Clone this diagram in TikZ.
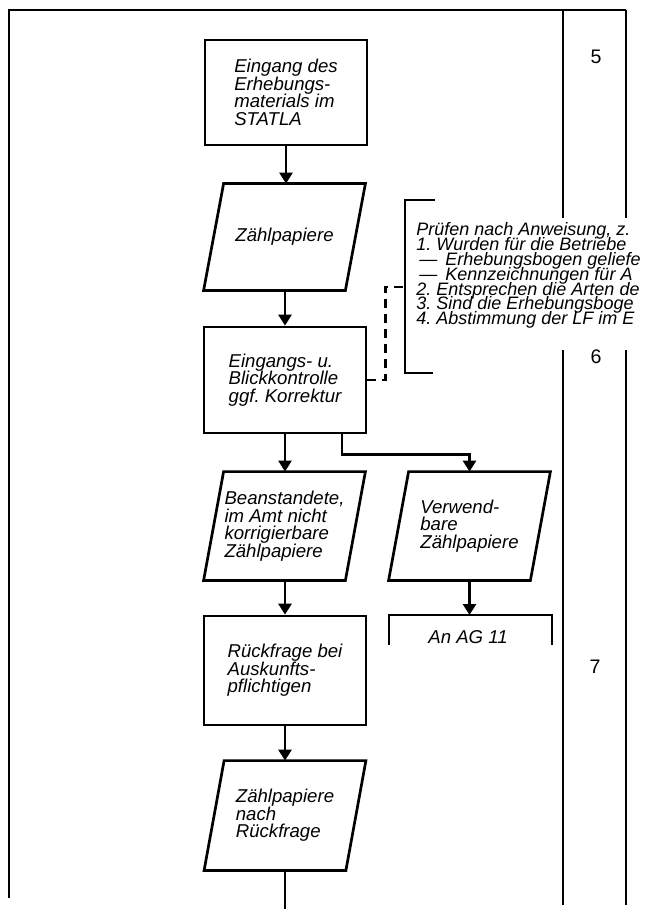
\documentclass[tikz,border=0pt]{standalone}
\usepackage{fontspec}
\setmainfont{Liberation Sans}
\usetikzlibrary{arrows.meta}
\lineskiplimit=-100pt
\frenchspacing
\newcommand\mybxfont{\fontsize{9.3pt}{8.8pt}\selectfont\itshape\lineskiplimit=-100pt\frenchspacing}
\newcommand\mytxfont{\fontsize{9pt}{7.45pt}\selectfont\itshape\lineskiplimit=-100pt\frenchspacing}
\newcommand\mynumfont{\fontsize{9.8pt}{9pt}\selectfont}
\newcommand\drawpara[1]{\draw[lw] ([xshift=5pt]#1.north west) -- ([xshift=5pt]#1.north east) -- ([xshift=-5pt]#1.south east) -- ([xshift=-5pt]#1.south west) -- cycle;}
\tikzset{
  lw/.style={line width=1.35pt},
  boxst/.style={draw, line width=1.35pt, minimum width=81pt, inner sep=0pt, align=left, font=\mybxfont},
  parast/.style={minimum width=70.5pt, inner sep=0pt, align=left, font=\mybxfont},
  arr/.style={line width=1.35pt, -{Triangle[length=5.5pt,width=6.5pt]}},
  dashst/.style={line width=1.35pt, dash pattern=on 4.5pt off 3pt},
  framest/.style={line width=1.4pt},
  numst/.style={font=\mynumfont, inner sep=0pt},
}
\begin{document}
\begin{tikzpicture}[x=0.5pt,y=-0.5pt]
\clip (0,0) rectangle (646,909);
\fill[white] (0,0) rectangle (646,909);
% frame
\draw[framest] (9,898) -- (9,10) -- (626,10);
\draw[framest] (563,10) -- (563,218);
\draw[framest] (563,350) -- (563,905);
\draw[framest] (626,10) -- (626,218);
\draw[framest] (626,350) -- (626,905);
\node[numst] (n5) at (596,57) {5};
\node[numst] (n6) at (596,357) {6};
\node[numst] (n7) at (595,667) {7};
% main column
\node[boxst, minimum height=52.5pt] (eing) at (286,92.5) {Eingang des\\Erhebungs-\\materials im\\STATLA};
\node[parast, minimum height=53pt] (p1) at (284.5,237) {Zählpapiere};
\drawpara{p1}
\node[boxst, minimum height=53pt] (box2) at (285,380) {Eingangs- u.\\Blickkontrolle\\ggf.\ Korrektur};
\node[parast, minimum height=54pt] (p2) at (284.5,526) {Beanstandete,\\im Amt nicht\\korrigierbare\\Zählpapiere};
\drawpara{p2}
\node[parast, minimum height=54pt] (p3) at (469.5,526) {Verwend-\\bare\\Zählpapiere};
\drawpara{p3}
\node[boxst, minimum height=54.5pt] (box3) at (285,670.5) {Rückfrage bei\\Auskunfts-\\pflichtigen};
\node[parast, minimum height=54.5pt] (p4) at (285,815.5) {Zählpapiere\\nach\\Rückfrage};
\drawpara{p4}
% An AG 11
\coordinate (agtop) at (470,615);
\draw[lw] (389,645) -- (389,615) -- (552,615) -- (552,645);
\node[font=\mybxfont, inner sep=0pt] (ag) at (468,637.5) {An AG 11};
% check bracket
\coordinate (brkmid) at (405,287);
\draw[lw] (435,200) -- (405,200) -- (405,373) -- (433,373);
\node[font=\mytxfont, align=left, inner sep=0pt, anchor=north west] (pruef) at (416,222)
 {Prüfen nach Anweisung, z.\\
  1. Wurden für die Betriebe\\
  \hspace*{1.5pt}—\hspace*{4pt}Erhebungsbogen geliefe\\
  \hspace*{1.5pt}—\hspace*{4pt}Kennzeichnungen für A\\
  2. Entsprechen die Arten de\\
  3. Sind die Erhebungsboge\\
  4. Abstimmung der LF im E};
% connectors
\coordinate (bot) at (285,912);
\draw[arr] (eing.south) -- (eing.south |- p1.north);
\draw[arr] (p1.south -| box2.north) -- (box2.north);
\draw[arr] (box2.south) -- (box2.south |- p2.north);
\draw[arr] ([xshift=28.5pt]box2.south) -- ++(0,20) -| (p3.north);
\draw[dashst] (box2.east) -- ++(18,0) |- (brkmid);
\draw[arr] (p2.south -| box3.north) -- (box3.north);
\draw[arr] (p3.south) -- (p3.south |- agtop);
\draw[arr] (box3.south) -- (box3.south |- p4.north);
\draw[lw] (p4.south) -- (bot);
\end{tikzpicture}
\end{document}
